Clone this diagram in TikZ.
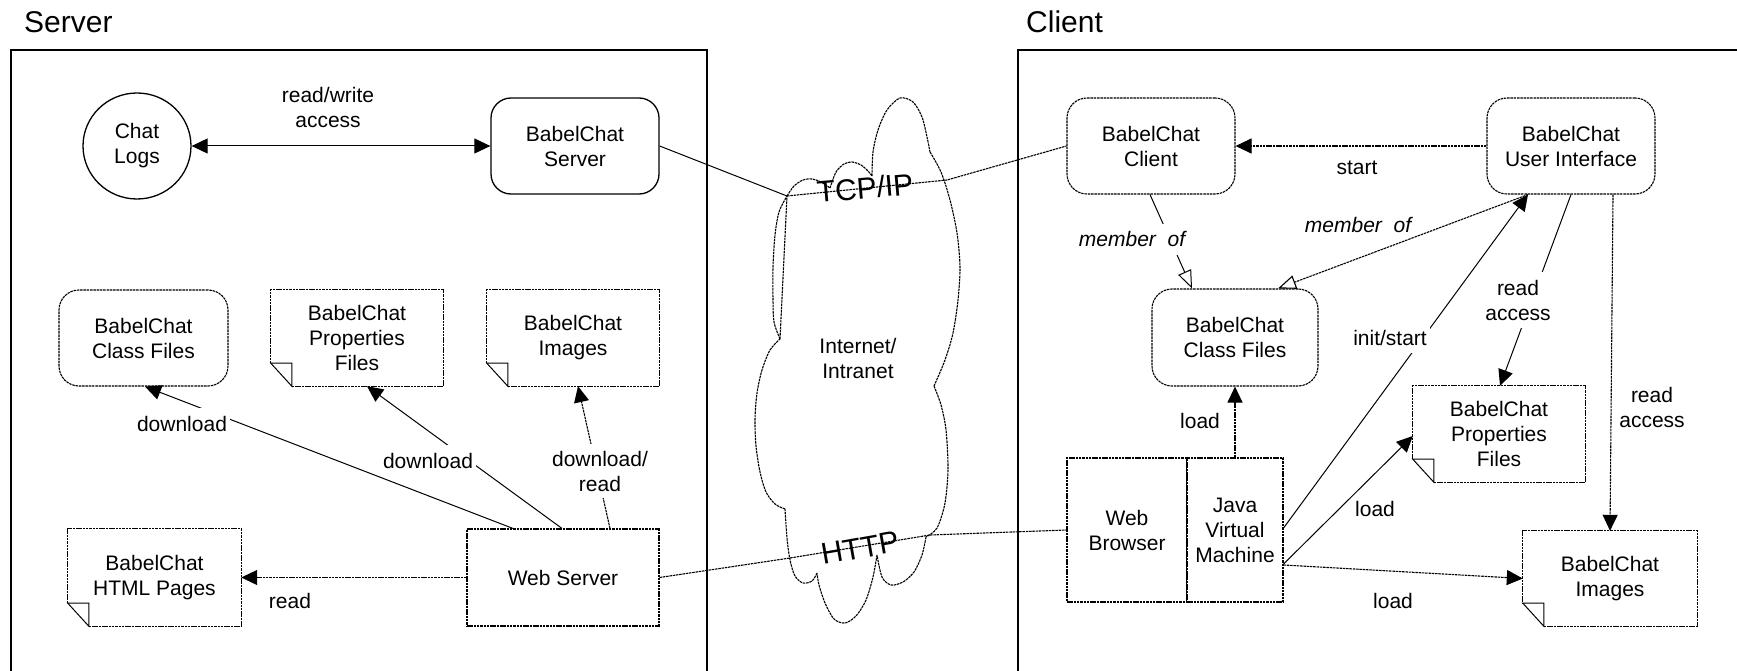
\documentclass[tikz,border=0pt]{standalone}
\usepackage{fontspec}
\setmainfont{Liberation Sans}
\usetikzlibrary{arrows.meta,shapes.geometric,calc}

\newcommand{\foldnote}[1]{%
  \draw[dl] ([xshift=21pt]#1.south west) -- (#1.south east) -- (#1.north east) -- (#1.north west) -- ([yshift=23pt]#1.south west);
  \draw[sl] ([yshift=23pt]#1.south west) -- ([xshift=21pt]#1.south west) -- ([xshift=21pt,yshift=23pt]#1.south west) -- cycle;
}

\tikzset{
  ftri/.tip={Triangle[length=16pt,width=15pt]},
  otri/.tip={Triangle[length=18pt,width=14pt,fill=white]},
  base/.style={font=\fontsize{21}{25}\selectfont, align=center, inner sep=0pt},
  dl/.style={line width=1.1pt, dash pattern=on 2.5pt off 0.8pt},
  sl/.style={line width=1pt},
  rbox/.style={base, draw, dl, rounded corners=20pt, minimum width=168pt, minimum height=96pt},
  srbox/.style={base, draw, line width=1.3pt, rounded corners=20pt, minimum width=168pt, minimum height=96pt},
  notebox/.style={base, minimum width=172pt, minimum height=96pt},
  sqbox/.style={base, draw, dl},
  lbl/.style={font=\fontsize{21}{25}\selectfont, align=center, fill=white, inner xsep=3pt, inner ysep=5pt},
  plbl/.style={font=\fontsize{21}{25}\selectfont, align=center, inner sep=1pt},
  title/.style={font=\fontsize{30}{36}\selectfont, inner sep=0pt},
  frame/.style={line width=2pt},
}

\begin{document}
\begin{tikzpicture}[x=1pt,y=-1pt]
\useasboundingbox (0,0) rectangle (1737,671);

% frames and titles
\node[title, anchor=base west] (tserver) at (24,33) {Server};
\node[title, anchor=base west] (tclient) at (1026,33) {Client};
\draw[frame] (11,680) |- (707,50) -- (707,680);
\draw[frame] (1018,680) |- (1745,50);

% server nodes
\node[base, draw, ellipse, line width=1.3pt, minimum width=108pt, minimum height=106pt] (chatlogs) at (137,146) {Chat\\Logs};
\node[srbox] (bcserver) at (575,146) {BabelChat\\Server};
\node[rbox, minimum width=169pt] (scf) at (143.5,338) {BabelChat\\Class Files};
\node[notebox] (sprops) at (357,338) {BabelChat\\Properties\\Files};
\node[notebox] (simg) at (573,338) {BabelChat\\Images};
\node[notebox, minimum width=173pt, minimum height=97pt] (shtml) at (154.5,577.5) {BabelChat\\HTML Pages};
\node[sqbox, minimum width=192pt, minimum height=97pt] (wsrv) at (563,577.5) {Web Server};
\foldnote{sprops}
\foldnote{simg}
\foldnote{shtml}

% client nodes
\node[rbox] (bcclient) at (1151,146) {BabelChat\\Client};
\node[rbox] (bcui) at (1571,146) {BabelChat\\User Interface};
\node[rbox, minimum width=166pt, minimum height=97pt] (ccf) at (1235,337.5) {BabelChat\\Class Files};
\node[notebox] (cprops) at (1499,434) {BabelChat\\Properties\\Files};
\node[notebox, minimum width=174pt, minimum height=95pt] (cimg) at (1610,578.5) {BabelChat\\Images};
\foldnote{cprops}
\foldnote{cimg}
\node[sqbox, minimum width=120pt, minimum height=144pt] (browser) at (1127,530) {Web\\Browser};
\node[sqbox, minimum width=96pt, minimum height=144pt] (jvm) at (1235,530) {Java\\Virtual\\Machine};
\draw[sl] (jvm.north west) -- (jvm.south west);

% cloud
\draw[dl] (787,196)
 plot[smooth] coordinates {(787,196) (794,186) (803,180) (812,179) (821,182) (830,188)}
 plot[smooth] coordinates {(830,188) (836,172) (844,164) (852,162) (861,165) (868,171) (872,176)}
 plot[smooth] coordinates {(872,176) (873,152) (878,130) (887,110) (900,98) (913,102) (922,117) (927,137) (930,152)}
 plot[smooth] coordinates {(930,152) (941,172) (950,200) (957,233) (960,267) (958,300) (953,333) (945,360) (934,386)}
 plot[smooth] coordinates {(934,386) (941,405) (946,430) (948,469) (945,503) (937,528) (926,537)}
 plot[smooth] coordinates {(926,537) (922,555) (914,572) (903,582) (891,585) (882,577) (877,555)}
 plot[smooth] coordinates {(877,555) (873,577) (866,600) (856,616) (845,623) (834,619) (825,603) (819,585) (817,573)}
 plot[smooth] coordinates {(817,573) (812,581) (803,583) (795,576) (790,560) (787,538) (785,509)}
 plot[smooth] coordinates {(785,509) (775,504) (766,492) (760,472) (756,446) (755,419) (757,393) (762,370) (770,350) (780,339)}
 plot[smooth] coordinates {(780,339) (774,322) (773,300) (773,267) (775,235) (779,212) (787,196)}
 -- cycle;
\node[base] (net) at (858,358.5) {Internet/\\Intranet};

% TCP/IP and HTTP
\coordinate (tcpA) at (787,196);
\coordinate (tcpB) at (947,180);
\coordinate (httpA) at (790,558);
\coordinate (httpB) at (930,535);
\draw[sl] (bcserver.east) -- (tcpA);
\draw[dl] (tcpA) -- (tcpB) -- (bcclient.west);
\draw[dl] (wsrv.east) -- (httpA) -- (httpB) -- (browser.west);
\node[title, rotate=5] (ltcp) at (865,188) {TCP/IP};
\node[title, rotate=10] (lhttp) at (860,548) {HTTP};

% server connectors
\draw[sl, {ftri}-{ftri}] (chatlogs) -- (bcserver);
\draw[dl, -{ftri}] (wsrv.west) -- (shtml.east);
\draw[sl, -{ftri}] ([xshift=-50pt]wsrv.north) -- ([xshift=1.5pt]scf.south);
\draw[sl, -{ftri}] ([xshift=-1pt]wsrv.north) -- ([xshift=10pt]sprops.south);
\draw[dl, -{ftri}] ([xshift=47pt]wsrv.north) -- ([xshift=5pt]simg.south);
\node[plbl] (lrw) at (328,107.5) {read/write\\access};
\node[plbl, anchor=base] (lread) at (290,608) {read};
\node[lbl, anchor=base, inner ysep=8pt] (ldl1) at (182,431) {download};
\node[lbl, anchor=base, inner ysep=8pt] (ldl2) at (428,468) {download};
\node[lbl, inner ysep=7pt] (ldl3) at (600,471) {download/\\read};

% client connectors
\draw[dl, -{ftri}] (bcui.west) -- (bcclient.east);
\draw[sl, -{otri}] ([xshift=-1pt]bcclient.south) -- ([xshift=-43pt]ccf.north);
\draw[dl, -{otri}] ([xshift=-43pt]bcui.south) -- ([xshift=43pt]ccf.north);
\draw[sl, -{ftri}] ([yshift=2pt]jvm.east) -- ([xshift=-43pt]bcui.south);
\draw[sl, -{ftri}] (bcui.south) -- ([xshift=1pt]cprops.north);
\draw[dl, -{ftri}] ([xshift=42pt]bcui.south) -- (cimg.north);
\draw[dl, -{ftri}] (jvm.north) -- (ccf.south);
\draw[sl, -{ftri}] ([yshift=-34pt]jvm.east) -- ([yshift=-2pt]cprops.west);
\draw[dl, -{ftri}] ([yshift=-35pt]jvm.east) -- (cimg.west);

\node[plbl, anchor=base] (lstart) at (1357,175) {start};
\node[lbl, anchor=base, inner ysep=8pt, font=\fontsize{21}{25}\selectfont\itshape] (lmem1) at (1132,247) {member\ \ of};
\node[lbl, anchor=base, inner ysep=2pt, font=\fontsize{21}{25}\selectfont\itshape] (lmem2) at (1358,233) {member\ \ of};
\node[lbl, anchor=base, inner ysep=8pt] (linit) at (1390,345) {init/start};
\node[lbl, inner ysep=8pt] (lra1) at (1518,300) {read\\access};
\node[plbl] (lra2) at (1652,407) {read\\access};
\node[plbl, anchor=base] (lload1) at (1200,428) {load};
\node[plbl, anchor=base] (lload2) at (1375,516) {load};
\node[plbl, anchor=base] (lload3) at (1393,608) {load};
\end{tikzpicture}
\end{document}
